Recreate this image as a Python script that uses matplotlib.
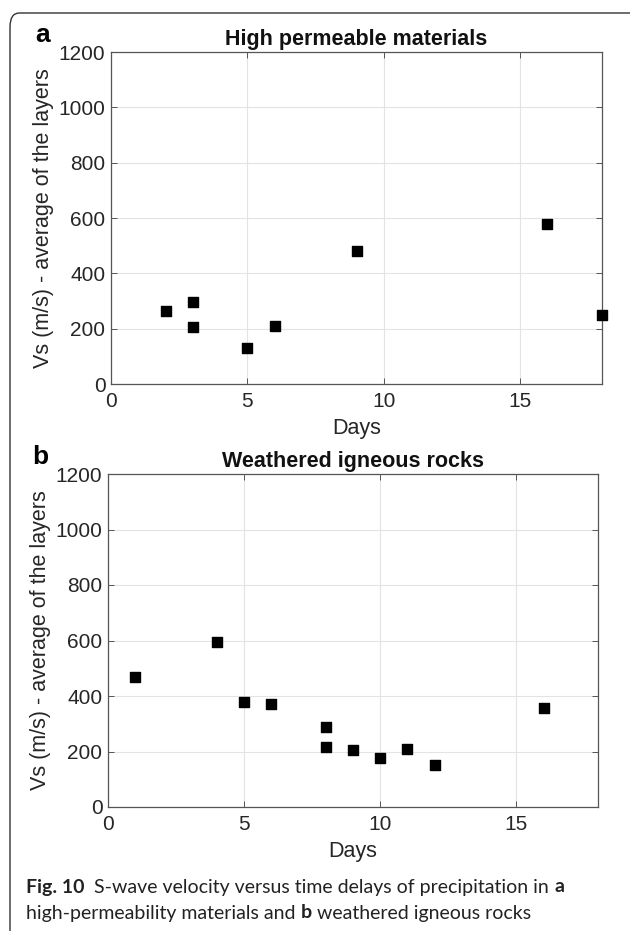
import numpy as np
import matplotlib.pyplot as plt
from matplotlib.patches import FancyBboxPatch

# panel a: high permeable materials
days_a = [2, 3, 3, 5, 6, 9, 16, 18]
vs_a = [265, 295, 205, 130, 210, 480, 580, 250]

# panel b: weathered igneous rocks
days_b = [1, 4, 5, 6, 8, 8, 9, 10, 11, 12, 16]
vs_b = [470, 595, 380, 370, 290, 215, 205, 175, 210, 150, 355]

titles = ["High permeable materials", "Weathered igneous rocks"]
letters = ["a", "b"]
xticks = [0, 5, 10, 15]
yticks = [0, 200, 400, 600, 800, 1000, 1200]

# caption pieces: (text, bold)
caption_1 = [("Fig. 10", True), ("  S-wave velocity versus time delays of precipitation in ", False), ("a", True)]
caption_2 = [("high-permeability materials and ", False), ("b", True), (" weathered igneous rocks", False)]

W, H = 630, 931
fig = plt.figure(figsize=(W / 100, H / 100), dpi=100)

font = ["Liberation Sans", "DejaVu Sans"]
txt_col = "#262626"
ax_col = "#555555"


def px_axes(l, t, r, b):
    return [l / W, 1 - b / H, (r - l) / W, (b - t) / H]


boxes = [(111, 52, 602, 384), (108, 474, 598, 807)]
data = [(days_a, vs_a), (days_b, vs_b)]

for i, (box, (x, y)) in enumerate(zip(boxes, data)):
    ax = fig.add_axes(px_axes(*box))
    ax.scatter(x, y, marker="s", s=62, color="black", clip_on=False, zorder=3)
    ax.set_xlim(0, 18)
    ax.set_ylim(0, 1200)
    ax.set_xticks(xticks)
    ax.set_yticks(yticks)
    ax.grid(True, color="#e3e3e3", linewidth=0.8)
    ax.set_axisbelow(True)
    ax.tick_params(direction="in", length=4, width=0.7, colors=ax_col,
                   labelcolor=txt_col, labelsize=15, top=True, right=True)
    ax.tick_params(axis="x", pad=6)
    ax.tick_params(axis="y", pad=4)
    for lab in ax.get_xticklabels() + ax.get_yticklabels():
        lab.set_family(font)
    for s in ax.spines.values():
        s.set_color(ax_col)
        s.set_linewidth(0.9)
    ax.set_xlabel("Days", fontsize=15.5, color=txt_col, family=font, labelpad=5)
    ax.set_ylabel("Vs (m/s) - average of the layers", fontsize=15.5,
                  color=txt_col, family=font, labelpad=3)
    ax.set_title(titles[i], fontsize=15.5, fontweight="bold", family=font,
                 color="#111111", pad=5)

fig.text(43 / W, 1 - 35 / H, "a", fontsize=19, fontweight="bold",
         family=font, ha="center", va="center")
fig.text(40 / W, 1 - 457 / H, "b", fontsize=19, fontweight="bold",
         family=font, ha="center", va="center")

# caption, drawn run by run so bold parts use the same family
cap_font = ["Lato", "DejaVu Sans"]
cap_size = 14
renderer = fig.canvas.get_renderer()
for pieces, ypx in [(caption_1, 887), (caption_2, 913)]:
    xpx = 26
    for s, bold in pieces:
        t = fig.text(xpx / W, 1 - ypx / H, s, fontsize=cap_size, family=cap_font,
                     fontweight="bold" if bold else "normal",
                     va="center", color="#222222")
        xpx += t.get_window_extent(renderer).width

# rounded frame around the figure
frame = FancyBboxPatch((10 / W, -0.05), (640 - 10) / W, 1 - 13 / H + 0.05,
                       boxstyle="round,pad=0,rounding_size=0.015",
                       transform=fig.transFigure, fill=False,
                       edgecolor="#333333", linewidth=1.0)
fig.patches.append(frame)

fig.savefig("out.png", dpi=100)
